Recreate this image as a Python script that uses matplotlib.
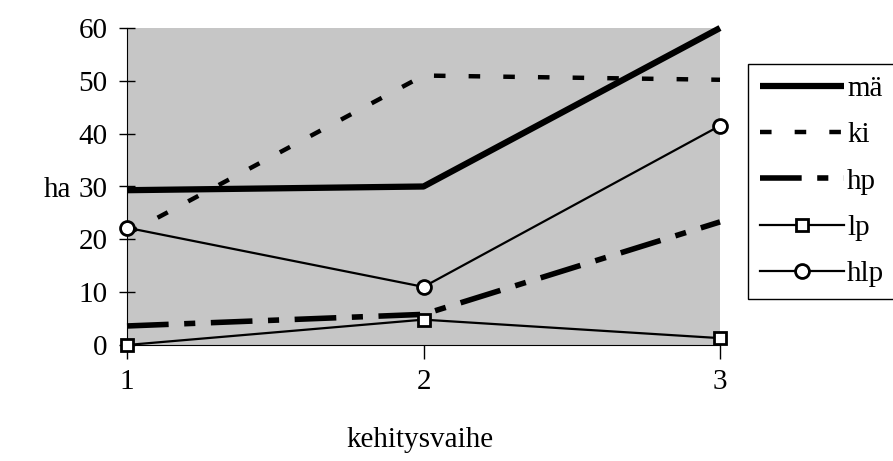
import numpy as np
import matplotlib
matplotlib.use("Agg")
import matplotlib.pyplot as plt

# kehitysvaihe -> ha
vaiheet = [1, 2, 3]
ma = [29.3, 30.0, 60.0]
ki = [21.0, 51.0, 50.2]
hp = [3.6, 5.8, 23.3]
lp = [0.0, 4.8, 1.3]
hlp = [22.2, 11.0, 41.5]

plt.rcParams['font.family'] = ['Liberation Serif', 'DejaVu Serif']

fig = plt.figure(figsize=(8.93, 4.61), dpi=100)
ax = fig.add_axes([127/893, 1 - 345/461, (720 - 127)/893, (345 - 28)/461])
ax.set_facecolor('#c6c6c6')

ax.plot(vaiheet, ma, color='black', lw=4.5, solid_capstyle='butt', label='mä', clip_on=False)
ax.plot(vaiheet, ki, color='black', lw=3.2, dashes=(2.6, 5.2), label='ki', clip_on=False)
ax.plot(vaiheet, hp, color='black', lw=4.0, dashes=(7.5, 2.8, 2.0, 2.8), label='hp', clip_on=False)
ax.plot(vaiheet, lp, color='black', lw=1.6, marker='s', ms=9, mfc='white', mec='black', mew=2,
        label='lp', clip_on=False, zorder=5)
ax.plot(vaiheet, hlp, color='black', lw=1.6, marker='o', ms=10, mfc='white', mec='black', mew=2,
        label='hlp', clip_on=False, zorder=5)

ax.set_xlim(1, 3)
ax.set_ylim(0, 60)
ax.set_xticks(vaiheet)
ax.set_yticks(np.arange(0, 61, 10))
ax.spines['top'].set_visible(False)
ax.spines['right'].set_visible(False)
ax.tick_params(axis='y', direction='inout', length=12, width=1, labelsize=21, pad=8)
ax.tick_params(axis='x', direction='out', length=10, width=1, labelsize=21, pad=7)

fig.text(44/893, 1 - 190/461, 'ha', fontsize=21, ha='left', va='center')
fig.text(420/893, 1 - 440/461, 'kehitysvaihe', fontsize=21, ha='center', va='center')

leg = fig.legend(loc='upper left', bbox_to_anchor=(748/893, 1 - 64/461), fontsize=21,
                 handlelength=2.9, handletextpad=0.1, labelspacing=0.68, borderpad=0.4,
                 borderaxespad=0, fancybox=False, frameon=True, framealpha=1,
                 edgecolor='black', numpoints=1)
leg.get_frame().set_linewidth(1)

fig.savefig('out.png', dpi=100)
